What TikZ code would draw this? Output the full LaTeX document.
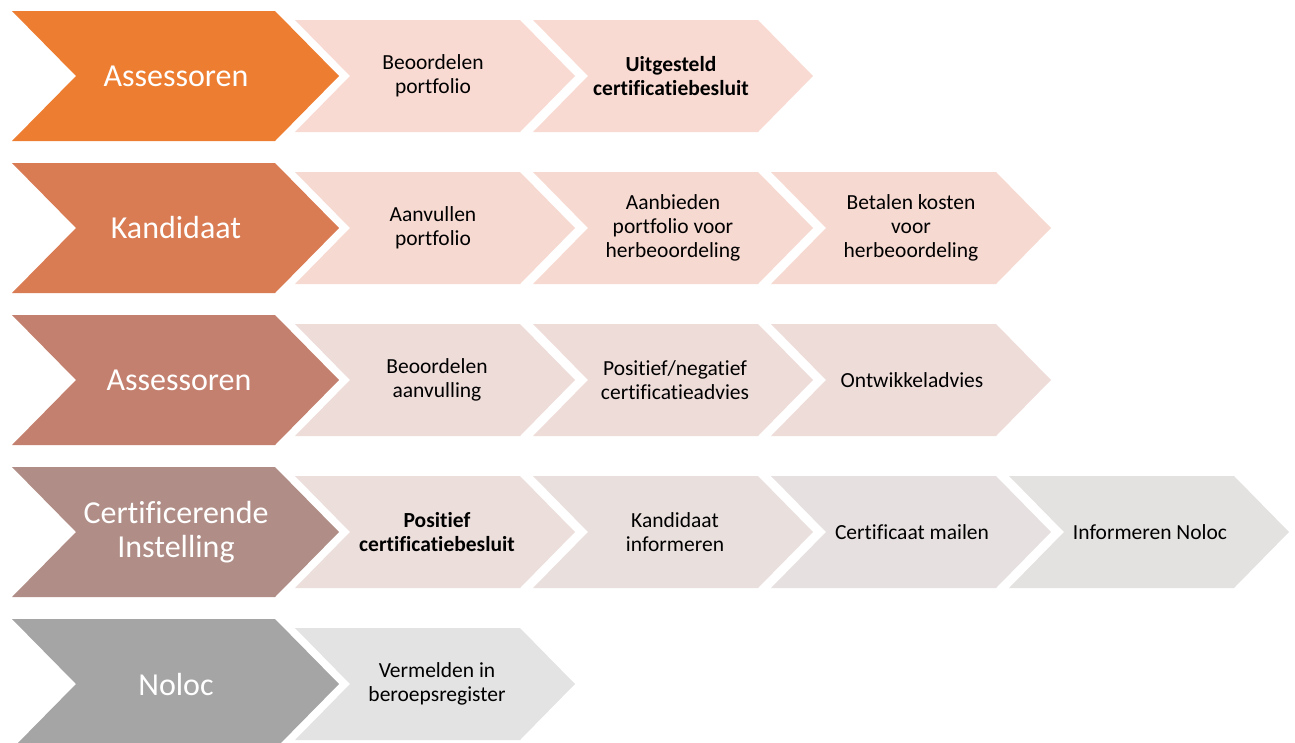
\documentclass[tikz,border=0pt]{standalone}
\usepackage{fontspec}
\setmainfont{Carlito}[Ligatures={NoCommon,NoRare,NoDiscretionary}]
\definecolor{b1}{HTML}{ED7D31}
\definecolor{b2}{HTML}{D97B53}
\definecolor{b3}{HTML}{C4806F}
\definecolor{b4}{HTML}{B08E87}
\definecolor{b5}{HTML}{A5A5A5}
\definecolor{s1}{HTML}{F8DAD2}
\definecolor{s2}{HTML}{F6D9D1}
\definecolor{s3}{HTML}{EEDCD9}
\definecolor{s4a}{HTML}{ECDEDB}
\definecolor{s4b}{HTML}{E9DFDD}
\definecolor{s4c}{HTML}{E6E1E0}
\definecolor{s4d}{HTML}{E4E2E1}
\definecolor{s5}{HTML}{E3E3E3}
\newcommand\mybigchev[2]{%
  \fill[#2] (12,#1-65) -- (275,#1-65) -- (339,#1) -- (275,#1+65) -- (12,#1+65) -- (76,#1) -- cycle;}
\newcommand\mysmallchev[3]{%
  \fill[#3] (#1,#2-56) -- (#1+225,#2-56) -- (#1+280,#2) -- (#1+225,#2+56) -- (#1,#2+56) -- (#1+55,#2) -- cycle;}
\tikzset{
  bigtxt/.style={text=white, align=center, font=\fontsize{32}{34}\selectfont, inner sep=0pt},
  smalltxt/.style={text=black, align=center, font=\fontsize{21.5}{24}\selectfont, inner sep=0pt},
}
\begin{document}
\begin{tikzpicture}[x=1pt,y=-1pt]
\useasboundingbox (0,0) rectangle (1295,742);
% row 1
\mybigchev{76}{b1}
\mysmallchev{295}{76}{s1}
\mysmallchev{533}{76}{s1}
\node[bigtxt] (r1) at (176,76) {Assessoren};
\node[smalltxt] (r1a) at (433,76) {Beoordelen\\portfolio};
\node[smalltxt] (r1b) at (671,76) {\bfseries Uitgesteld\\\bfseries certificatiebesluit};
% row 2
\mybigchev{228}{b2}
\mysmallchev{295}{228}{s2}
\mysmallchev{533}{228}{s2}
\mysmallchev{771}{228}{s2}
\node[bigtxt] (r2) at (176,228) {Kandidaat};
\node[smalltxt] (r2a) at (433,228) {Aanvullen\\portfolio};
\node[smalltxt] (r2b) at (673,228) {Aanbieden\\portfolio voor\\herbeoordeling};
\node[smalltxt] (r2c) at (911,228) {Betalen kosten\\voor\\herbeoordeling};
% row 3
\mybigchev{380}{b3}
\mysmallchev{295}{380}{s3}
\mysmallchev{533}{380}{s3}
\mysmallchev{771}{380}{s3}
\node[bigtxt] (r3) at (179,380) {Assessoren};
\node[smalltxt] (r3a) at (437,380) {Beoordelen\\aanvulling};
\node[smalltxt] (r3b) at (675,380) {Positief/negatief\\certificatieadvies};
\node[smalltxt] (r3c) at (912,380) {Ontwikkeladvies};
% row 4
\mybigchev{532}{b4}
\mysmallchev{295}{532}{s4a}
\mysmallchev{533}{532}{s4b}
\mysmallchev{771}{532}{s4c}
\mysmallchev{1009}{532}{s4d}
\node[bigtxt] (r4) at (176,532) {Certificerende\\Instelling};
\node[smalltxt] (r4a) at (437,532) {\bfseries Positief\\\bfseries certificatiebesluit};
\node[smalltxt] (r4b) at (675,532) {Kandidaat\\informeren};
\node[smalltxt] (r4c) at (912,532) {Certificaat mailen};
\node[smalltxt] (r4d) at (1150,532) {Informeren Noloc};
% row 5
\mybigchev{684}{b5}
\mysmallchev{295}{684}{s5}
\node[bigtxt] (r5) at (176,684) {Noloc};
\node[smalltxt] (r5a) at (437,684) {Vermelden in\\beroepsregister};
\end{tikzpicture}
\end{document}
